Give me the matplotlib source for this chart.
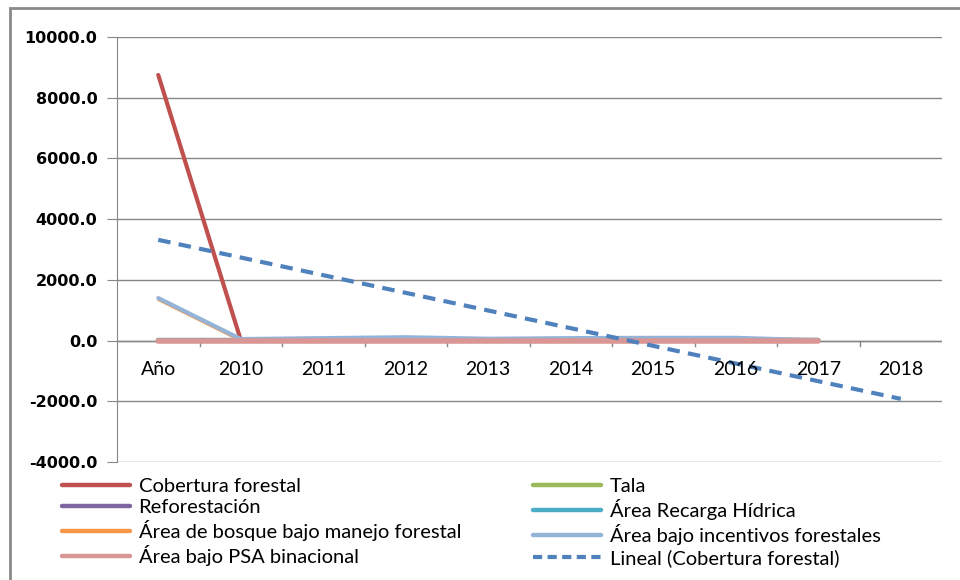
import matplotlib

matplotlib.use("Agg")

import matplotlib.pyplot as plt
import numpy as np
from matplotlib.lines import Line2D
from matplotlib.patches import Rectangle


categorias = ["Año", "2010", "2011", "2012", "2013", "2014", "2015", "2016", "2017", "2018"]

# valores (Año..2017)
cobertura = [8750, 20, 20, 20, 20, 20, 20, 20, 20]
tala = [5, 5, 5, 5, 5, 5, 5, 5, 5]
reforestacion = [10, 10, 10, 10, 10, 10, 10, 10, 10]
recarga = [15, 15, 15, 15, 15, 15, 15, 15, 15]
manejo = [1350, 0, 10, 20, 10, 15, 20, 20, 0]
incentivos = [1400, 50, 80, 110, 60, 80, 90, 90, 10]
psa = [0, 0, 0, 0, 0, 0, 0, 0, 0]

y_ticks = [-4000, -2000, 0, 2000, 4000, 6000, 8000, 10000]

series = [
    ("Cobertura forestal", cobertura, "#c0504d"),
    ("Tala", tala, "#9bbb59"),
    ("Reforestación", reforestacion, "#8064a2"),
    ("Área Recarga Hídrica", recarga, "#4bacc6"),
    ("Área de bosque bajo manejo forestal", manejo, "#f79646"),
    ("Área bajo incentivos forestales", incentivos, "#95b3d7"),
    ("Área bajo PSA binacional", psa, "#d99694"),
]
TREND = "Lineal (Cobertura forestal)"

plt.rcParams["font.family"] = ["Lato", "DejaVu Sans"]

fig = plt.figure(figsize=(9.6, 5.8), dpi=100)
ax = fig.add_axes([117 / 960, 1 - 462 / 580, 825 / 960, 425 / 580])

x = np.arange(1, len(categorias) + 1)
colores = {}
for nombre, valores, color in series:
    lw = 3.0
    if nombre == "Área de bosque bajo manejo forestal":
        lw = 2.0
    if nombre == "Área bajo PSA binacional":
        lw = 4.0
    ax.plot(x[: len(valores)], valores, color=color, linewidth=lw,
            solid_capstyle="round")
    colores[nombre] = color

# tendencia lineal de Cobertura forestal, extendida un periodo
xc = x[: len(cobertura)]
m, b = np.polyfit(xc, cobertura, 1)
ax.plot(x, m * x + b, color="#4f81bd", linewidth=3.0, linestyle=(0, (3, 2)))

ax.set_xlim(0.5, len(categorias) + 0.5)
ax.set_ylim(-4000, 10000)
ax.set_yticks(y_ticks)
ax.set_yticklabels([f"{v:.1f}" for v in y_ticks], fontweight="bold",
                   family=["DejaVu Sans"], fontsize=11.5)
ax.grid(axis="y", color="#868686", linewidth=1.0)
ax.set_axisbelow(True)
ax.tick_params(axis="y", length=7, color="#868686", pad=7)

for s in ["top", "right", "bottom"]:
    ax.spines[s].set_visible(False)
ax.spines["left"].set_color("#868686")

# eje de categorias en y=0
ax.axhline(0, color="#868686", linewidth=1.0, zorder=1)
ax.set_xticks([])
for xb in np.arange(1.5, len(categorias) + 0.5, 1.0):
    ax.plot([xb, xb], [0, -180], color="#868686", linewidth=1.0, zorder=1)
for xi, cat in zip(x, categorias):
    ax.text(xi, -680, cat, ha="center", va="top", fontsize=14)


def handle(nombre):
    if nombre == TREND:
        return Line2D([], [], color="#4f81bd", linewidth=3.0, linestyle=(0, (2.2, 1.3)))
    return Line2D([], [], color=colores[nombre], linewidth=3.2, solid_capstyle="round")


col1 = ["Cobertura forestal", "Reforestación", "Área de bosque bajo manejo forestal",
        "Área bajo PSA binacional"]
col2 = ["Tala", "Área Recarga Hídrica", "Área bajo incentivos forestales", TREND]
for nombres, x0 in [(col1, 62), (col2, 533)]:
    leg = fig.legend([handle(n) for n in nombres], nombres, frameon=False,
                     loc="upper left", bbox_to_anchor=(x0 / 960, 1 - 478 / 580),
                     fontsize=14.5, handlelength=3.4, handletextpad=0.4,
                     labelspacing=0.2, borderpad=0, borderaxespad=0)

# marco exterior del grafico
fig.patches.append(Rectangle((10 / 960, -0.05), 1.0, 1 - 8 / 580 + 0.05,
                             transform=fig.transFigure, fill=False,
                             edgecolor="#8a8a8a", linewidth=2.0))

fig.savefig("out.png", dpi=100)
